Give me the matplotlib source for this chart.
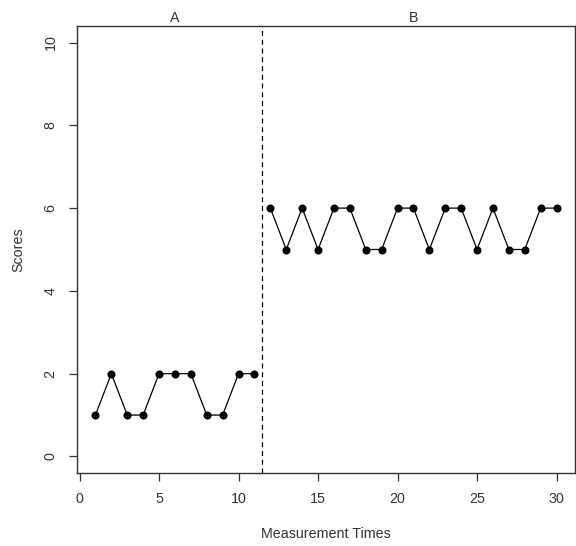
import matplotlib
matplotlib.use("Agg")
import matplotlib.pyplot as plt

plt.rcParams['font.family'] = ['Liberation Sans', 'DejaVu Sans']

times_a = list(range(1, 12))
scores_a = [1, 2, 1, 1, 2, 2, 2, 1, 1, 2, 2]
times_b = list(range(12, 31))
scores_b = [6, 5, 6, 5, 6, 6, 5, 5, 6, 6, 5, 6, 6, 5, 6, 5, 5, 6, 6]
phase_labels = ["A", "B"]
phase_change = 11.5
x_ticks = [0, 5, 10, 15, 20, 25, 30]
y_ticks = [0, 2, 4, 6, 8, 10]

FS = 10.3

fig = plt.figure(figsize=(5.76, 5.46), dpi=100)
ax = fig.add_axes([77/576, 1 - 473/546, (575 - 77)/576, (473 - 26)/546])

for t, s in [(times_a, scores_a), (times_b, scores_b)]:
    ax.plot(t, s, color='black', lw=0.9, marker='o', markersize=4.8,
            markerfacecolor='black', markeredgecolor='black')

ax.axvline(phase_change, color='black', lw=0.9, ls=(0, (4, 3)))

ax.set_xlim(1 - 0.04 * 29, 30 + 0.04 * 29)
ax.set_ylim(-0.4, 10.4)
ax.set_xticks(x_ticks)
ax.set_yticks(y_ticks)
ax.tick_params(direction='out', length=6, width=0.9, colors='#333333',
               labelsize=FS, labelcolor='#333333', pad=8)
for lab in ax.get_yticklabels():
    lab.set_rotation(90)
    lab.set_va('center')
for sp in ax.spines.values():
    sp.set_color('#333333')
    sp.set_linewidth(1.0)

mid_a = (times_a[0] + times_a[-1]) / 2
mid_b = (times_b[0] + times_b[-1]) / 2
for lab, x in zip(phase_labels, [mid_a, mid_b]):
    ax.text(x, 1.003, lab, transform=ax.get_xaxis_transform(), ha='center',
            va='bottom', fontsize=FS, color='#333333')

ax.set_xlabel("Measurement Times", fontsize=FS, color='#333333', labelpad=15)
ax.set_ylabel("Scores", fontsize=FS, color='#333333', labelpad=13)

fig.savefig("out.png", dpi=100)
